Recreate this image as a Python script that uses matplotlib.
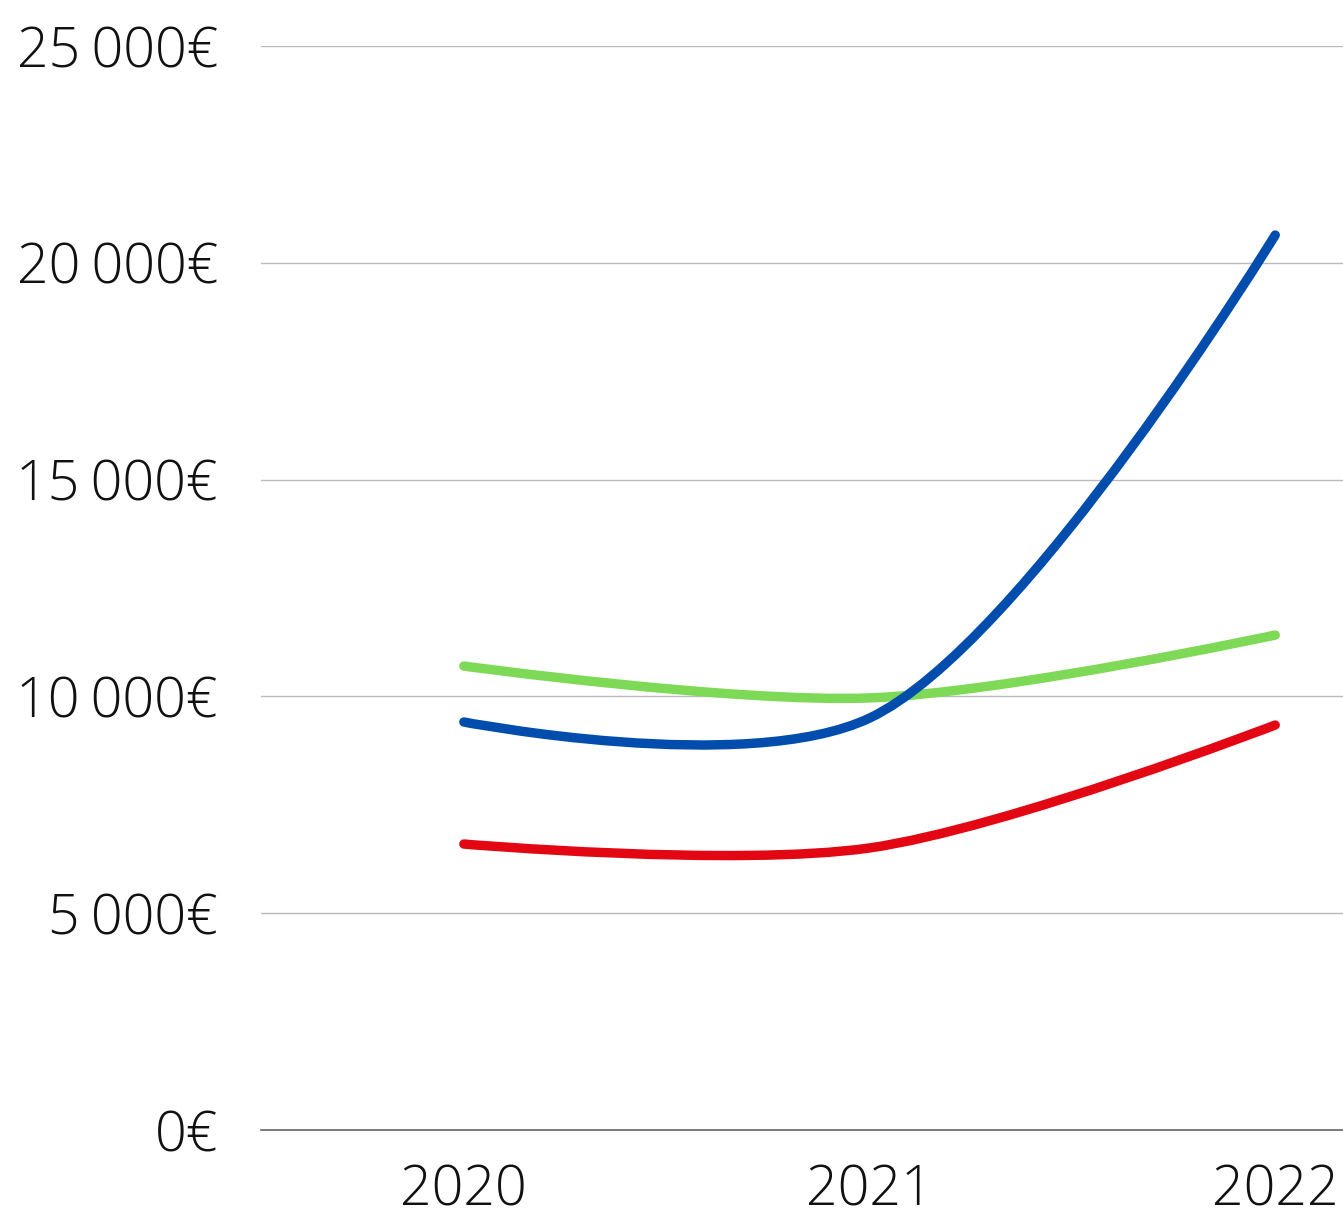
import numpy as np
import matplotlib
matplotlib.use("Agg")
import matplotlib.pyplot as plt
from matplotlib.path import Path
from matplotlib.patches import PathPatch

years = ["2020", "2021", "2022"]
blue = [9410, 9500, 20640]
green = [10700, 9965, 11415]
red = [6595, 6505, 9340]
yticks = [0, 5000, 10000, 15000, 20000, 25000]
ytick_labels = ["0€", "5\u202f000€", "10\u202f000€", "15\u202f000€", "20\u202f000€", "25\u202f000€"]

plt.rcParams['font.family'] = ['Open Sans', 'DejaVu Sans']

W, H = 1343, 1217
fig = plt.figure(figsize=(W / 100, H / 100), dpi=100)
ax = fig.add_axes([261 / W, 87 / H, (W - 261) / W, (1130 - 46) / H])
ax.set_xlim(-0.5, 2.167)
ax.set_ylim(0, 25000)


def catmull_rom_path(xs, ys, alpha=0.5):
    """Centripetal Catmull-Rom (d3.curveCatmullRom style) computed in display space."""
    pts = ax.transData.transform(np.column_stack([xs, ys]).astype(float))
    n = len(pts)
    eps = 1e-12
    verts = [pts[0]]
    codes = [Path.MOVETO]
    for i in range(n - 1):
        p0 = pts[i - 1] if i > 0 else None
        p1, p2 = pts[i], pts[i + 1]
        p3 = pts[i + 2] if i + 2 < n else None
        l12_2a = np.hypot(*(p2 - p1)) ** (2 * alpha)
        l12_a = np.sqrt(l12_2a)
        c1 = p1.copy()
        if p0 is not None:
            l01_2a = np.hypot(*(p1 - p0)) ** (2 * alpha)
            l01_a = np.sqrt(l01_2a)
            if l01_a > eps:
                a = 2 * l01_2a + 3 * l01_a * l12_a + l12_2a
                m = 3 * l01_a * (l01_a + l12_a)
                c1 = (p1 * a - p0 * l12_2a + p2 * l01_2a) / m
        c2 = p2.copy()
        if p3 is not None:
            l23_2a = np.hypot(*(p3 - p2)) ** (2 * alpha)
            l23_a = np.sqrt(l23_2a)
            if l23_a > eps:
                b = 2 * l23_2a + 3 * l23_a * l12_a + l12_2a
                m = 3 * l23_a * (l23_a + l12_a)
                c2 = (p2 * b + p1 * l23_2a - p3 * l12_2a) / m
        verts += [c1, c2, p2]
        codes += [Path.CURVE4] * 3
    verts = ax.transData.inverted().transform(np.array(verts))
    return Path(verts, codes)


x = np.arange(len(years))
for vals, col in [(green, "#7ED957"), (blue, "#004DAD"), (red, "#E30613")]:
    p = catmull_rom_path(x, vals)
    patch = PathPatch(p, facecolor="none", edgecolor=col, lw=6.8,
                      capstyle="round", joinstyle="round", zorder=3)
    ax.add_patch(patch)

ax.set_yticks(yticks)
ax.set_yticklabels(ytick_labels)
ax.set_xticks(x)
ax.set_xticklabels(years)
for t in ax.get_yticklabels() + ax.get_xticklabels():
    t.set_fontsize(40)
    t.set_fontweight("light")
    t.set_color("#111111")
ax.tick_params(axis="y", length=0, pad=31)
ax.tick_params(axis="x", length=0, pad=24)
ax.grid(axis="y", color="#BBBBBB", lw=1)
ax.set_axisbelow(True)
for s in ["left", "right", "top"]:
    ax.spines[s].set_visible(False)
ax.spines["bottom"].set_color("#666666")
ax.spines["bottom"].set_linewidth(1.2)

fig.savefig("out.png", dpi=100)
